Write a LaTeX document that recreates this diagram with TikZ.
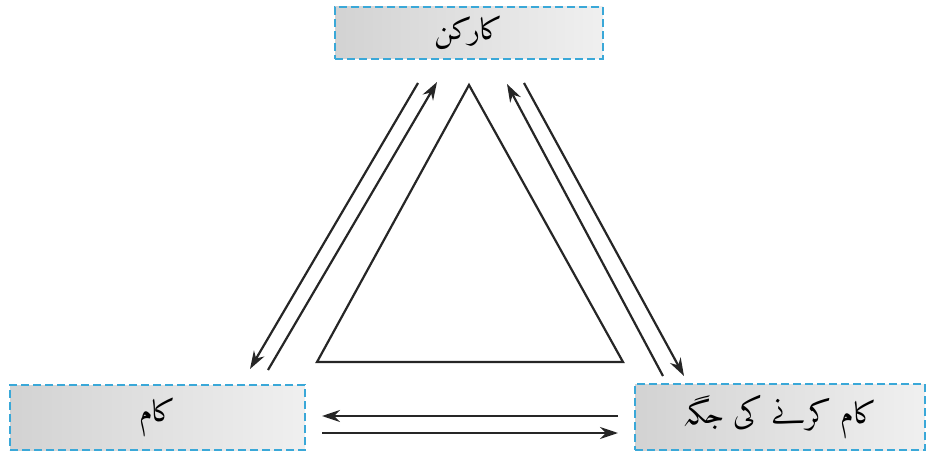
\documentclass[tikz,border=0pt]{standalone}
\usepackage{fontspec}
\IfFontExistsTF{Amiri-Regular.ttf}
  {\newfontfamily\urdufont[Script=Arabic, BoldFont=Amiri-Bold.ttf]{Amiri-Regular.ttf}}
  {\newfontfamily\urdufont[Script=Arabic]{DejaVu Sans}}
\TeXXeTstate=1
\usetikzlibrary{arrows.meta}
\definecolor{boxline}{HTML}{3AA8D8}
\definecolor{arrowgray}{HTML}{262626}
\begin{document}
\begin{tikzpicture}[x=1pt, y=-1pt,
  labelbox/.style={draw=boxline, dashed, dash pattern=on 8pt off 4pt, line width=2.2pt,
    left color=gray!35, right color=gray!12, minimum height=52pt, inner sep=0pt,
    font=\urdufont\fontsize{30}{34}\selectfont},
  flow/.style={draw=arrowgray, line width=2.2pt, -{Stealth[length=18pt, width=12pt]}}]
  \useasboundingbox (0,0) rectangle (930,452);
  \node[labelbox, minimum width=268pt, minimum height=52pt] (karkun) at (469,33) {\beginR کارکن\endR};
  \node[labelbox, minimum width=295pt, minimum height=65pt] (kaam) at (157.5,417.5) {\beginR کام\endR};
  \node[labelbox, minimum width=290pt, minimum height=66pt] (jagah) at (780,417) {\beginR کام کرنے کی جگہ\endR};
  \coordinate (tA) at (469,85);
  \coordinate (tB) at (317,362);
  \coordinate (tC) at (623,362);
  \draw[line width=2.2pt, draw=arrowgray] (tA) -- (tB) -- (tC) -- cycle;
  \coordinate (l1s) at (418,83);
  \coordinate (l1e) at (250,369);
  \coordinate (l2s) at (268,370);
  \coordinate (l2e) at (437,82);
  \coordinate (r1s) at (663,376);
  \coordinate (r1e) at (507,84);
  \coordinate (r2s) at (524,83);
  \coordinate (r2e) at (684,376);
  \coordinate (b1s) at (618,416);
  \coordinate (b1e) at (322,416);
  \coordinate (b2s) at (322,433);
  \coordinate (b2e) at (618,433);
  \draw[flow] (l1s) -- (l1e);
  \draw[flow] (l2s) -- (l2e);
  \draw[flow] (r1s) -- (r1e);
  \draw[flow] (r2s) -- (r2e);
  \draw[flow] (b1s) -- (b1e);
  \draw[flow] (b2s) -- (b2e);
\end{tikzpicture}
\end{document}
